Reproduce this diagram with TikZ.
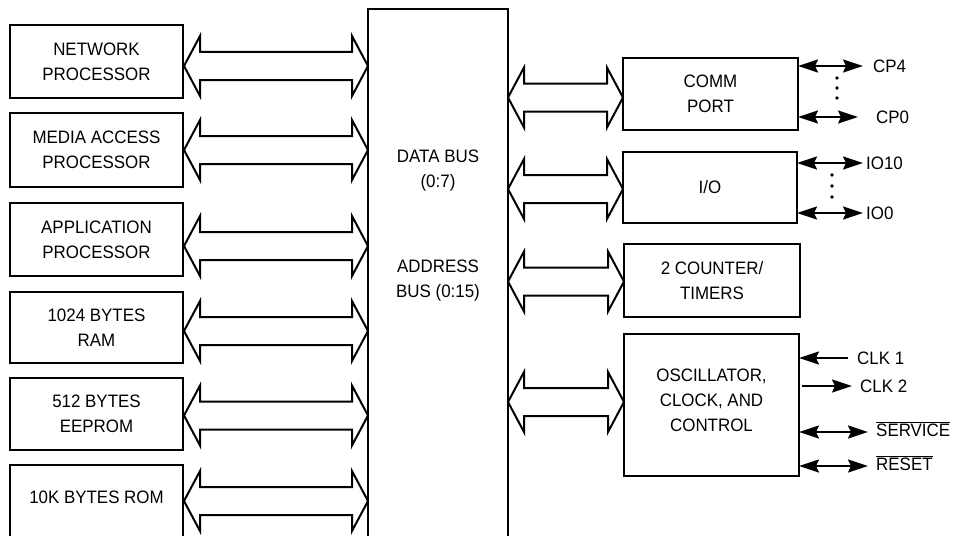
\documentclass[tikz,border=0pt]{standalone}
\usepackage{fontspec}
\setmainfont{Liberation Sans}[FakeStretch=0.94]
\usetikzlibrary{arrows.meta,calc}
\newcommand\lbl{\fontsize{18}{25}\selectfont}
% hollow two-headed bus arrow between two tip points
\newcommand\widearrow[2]{%
  \draw[busarrow] (#1) -- ++(16,-30) -- ++(0,16) -- ($(#2)+(-16,-14)$) -- ++(0,-16)
    -- (#2) -- ++(-16,30) -- ++(0,-16) -- ($(#1)+(16,14)$) -- ++(0,16) -- cycle;}
\begin{document}
\begin{tikzpicture}[x=1pt,y=-1pt,
  box/.style={draw,line width=2.2pt,inner sep=0pt,outer sep=0pt,align=center,font=\lbl},
  lbl/.style={inner sep=0pt,align=center,font=\lbl},
  busarrow/.style={line width=2pt,line join=miter},
  pintip/.tip={Stealth[length=20pt,width=13pt,inset=3pt]},
  sig/.style={line width=1.8pt},
  dot/.style={fill,circle,inner sep=0pt,minimum size=3.8pt}]
\useasboundingbox (0,0) rectangle (957,535);
\clip (0,0) rectangle (957,535);

% left-hand blocks
\node[box,minimum width=173pt,minimum height=73pt] (net) at (96.5,61.5) {NETWORK\\PROCESSOR};
\node[box,minimum width=173pt,minimum height=74pt] (mac) at (96.5,150) {MEDIA ACCESS\\PROCESSOR};
\node[box,minimum width=173pt,minimum height=73pt] (app) at (96.5,239.5) {APPLICATION\\PROCESSOR};
\node[box,minimum width=173pt,minimum height=71pt] (ram) at (96.5,327.5) {1024 BYTES\\RAM};
\node[box,minimum width=173pt,minimum height=72pt] (eep) at (96.5,414) {512 BYTES\\EEPROM};
\node[box,minimum width=173pt,minimum height=90pt] (rom) at (96.5,510) {};
\node[lbl] (romtext) at (96.5,497) {10K BYTES ROM};

% central bus
\node[box,minimum width=140pt,minimum height=540pt] (bus) at (438,279) {};
\node[lbl] (datatext) at (438,170.5) {DATA BUS\\(0:7)};
\node[lbl] (addrtext) at (438,281) {ADDRESS\\BUS (0:15)};

% right-hand blocks
\node[box,minimum width=175pt,minimum height=72pt] (comm) at (710.5,94) {COMM\\PORT};
\node[box,minimum width=174pt,minimum height=71pt] (io) at (710,187.5) {I/O};
\node[box,minimum width=176pt,minimum height=73pt] (ctr) at (712,280.5) {2 COUNTER/\\TIMERS};
\node[box,minimum width=175pt,minimum height=142pt] (osc) at (711.5,405) {};
\node[lbl] (osctext) at (711.5,400) {OSCILLATOR,\\CLOCK, AND\\CONTROL};

% bus arrows, left side
\coordinate (l1) at (184,66);
\coordinate (l2) at (184,150);
\coordinate (l3) at (184,246);
\coordinate (l4) at (184,331);
\coordinate (l5) at (184,415.5);
\coordinate (l6) at (184,501);
\foreach \i in {1,...,6} {\widearrow{l\i}{bus.west |- l\i}}

% bus arrows, right side
\coordinate (r1) at (508,97.5);
\coordinate (r2) at (508,189);
\coordinate (r3) at (508,281.5);
\coordinate (r4) at (508,402);
\widearrow{r1}{comm.west |- r1}
\widearrow{r2}{io.west |- r2}
\widearrow{r3}{ctr.west |- r3}
\widearrow{r4}{osc.west |- r4}

% signal pins
\node[lbl,anchor=west] (cp4) at (873,66) {CP4};
\node[lbl,anchor=west] (cp0) at (876,117) {CP0};
\node[lbl,anchor=west] (io10) at (866,163) {IO10};
\node[lbl,anchor=west] (io0) at (866,213) {IO0};
\node[lbl,anchor=west] (clk1) at (857,358) {CLK 1};
\node[lbl,anchor=west] (clk2) at (860,386) {CLK 2};
\node[lbl,anchor=west] (svc) at (876,429) {$\overline{\mbox{SERVICE}}$};
\node[lbl,anchor=west] (rst) at (876,463) {$\overline{\mbox{RESET}}$};
\coordinate (svcend) at (868,432);
\coordinate (rstend) at (868,466);

\draw[sig,pintip-pintip] (comm.east |- cp4) -- ([xshift=-10pt]cp4.west);
\draw[sig,pintip-pintip] (comm.east |- cp0) -- ([xshift=-18pt]cp0.west);
\draw[sig,pintip-pintip] (io.east |- io10) -- ([xshift=-3pt]io10.west);
\draw[sig,pintip-pintip] (io.east |- io0) -- ([xshift=-3pt]io0.west);
\draw[sig,-pintip] ([xshift=-9pt]clk1.west) -- (osc.east |- clk1);
\draw[sig,-pintip] ([xshift=3pt]osc.east |- clk2) -- ([xshift=-8pt]clk2.west);
\draw[sig,pintip-pintip] (osc.east |- svcend) -- (svcend);
\draw[sig,pintip-pintip] (osc.east |- rstend) -- (rstend);

\node[dot] (d1) at (837,78) {};
\node[dot] (d2) at (837,88) {};
\node[dot] (d3) at (837,98) {};
\node[dot] (d4) at (832,175) {};
\node[dot] (d5) at (832,186) {};
\node[dot] (d6) at (832,197) {};
\end{tikzpicture}
\end{document}
